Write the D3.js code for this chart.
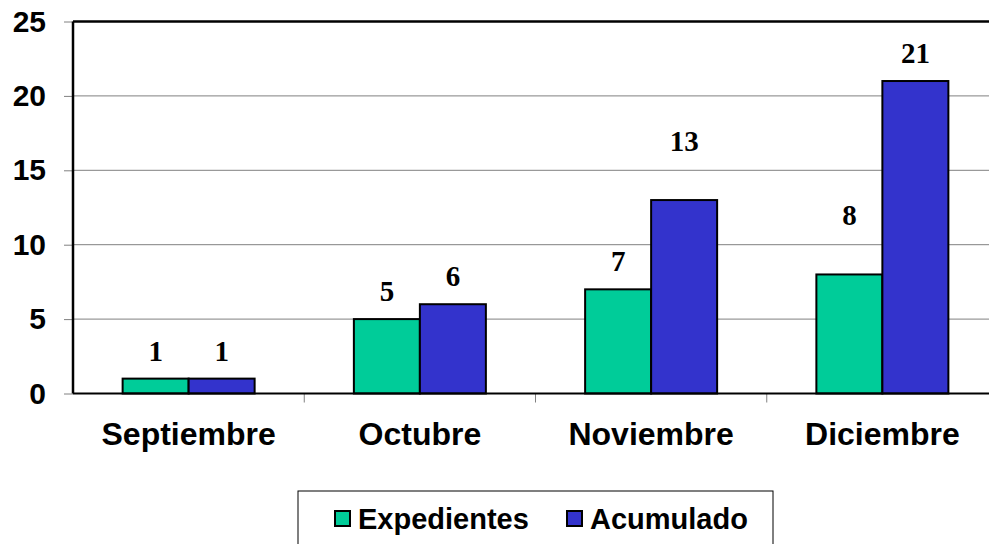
<!DOCTYPE html>
<html>
<head>
<meta charset="utf-8">
<script src="https://cdn.jsdelivr.net/npm/d3@7"></script>
<style>
	html, body { margin: 0; padding: 0; background: #fff; overflow: hidden; }
	svg { display: block; }
</style>
</head>
<body>
<div id="chart"></div>
<script>
// chart data
const months = ["Septiembre", "Octubre", "Noviembre", "Diciembre"];
const expedientes = [1, 5, 7, 8];
const acumulado = [1, 6, 13, 21];
const seriesNames = ["Expedientes", "Acumulado"];
const yTicks = [0, 5, 10, 15, 20, 25];

const width = 989, height = 544;
// plot area runs past the right edge of the window, like the source
const margin = { top: 21.5, left: 73 };
const plotW = 925, plotH = 372;
const colors = ["#00CC99", "#3333CC"];

const svg = d3
	.select("#chart")
	.append("svg")
	.attr("width", width)
	.attr("height", height);

const g = svg.append("g").attr("transform", `translate(${margin.left}, ${margin.top})`);

const x = d3.scaleBand().domain(months).range([0, plotW]).paddingInner(0).paddingOuter(0);
const y = d3.scaleLinear().domain([0, 25]).range([plotH, 0]);
const barW = 66;

// grid lines
g.append("g")
	.selectAll("line")
	.data(yTicks.filter((t) => t > 0 && t < 25))
	.join("line")
	.attr("x1", 0)
	.attr("x2", plotW)
	.attr("y1", (d) => y(d))
	.attr("y2", (d) => y(d))
	.attr("stroke", "#808080")
	.attr("stroke-width", 1);

// y axis
const yAxis = g.append("g").call(d3.axisLeft(y).tickValues(yTicks).tickSize(9).tickPadding(18));
yAxis.select(".domain").remove();
yAxis.selectAll(".tick line").attr("stroke", "#808080");
yAxis.selectAll("text")
	.attr("fill", "#000")
	.style("font", "bold 30px 'Liberation Sans', Arial, sans-serif");

// x axis
const xAxis = g.append("g").attr("transform", `translate(0, ${plotH})`)
	.call(d3.axisBottom(x).tickSize(0).tickPadding(29));
xAxis.select(".domain").remove();
xAxis.selectAll("text")
	.attr("fill", "#000")
	.attr("dy", "0.71em")
	.style("font", "bold 32px 'Liberation Sans', Arial, sans-serif");

// x ticks at band boundaries
g.append("g")
	.selectAll("line")
	.data(months.slice(1))
	.join("line")
	.attr("x1", (d) => x(d))
	.attr("x2", (d) => x(d))
	.attr("y1", plotH)
	.attr("y2", plotH + 9)
	.attr("stroke", "#808080");

// bars
const rows = months.map((m, i) => ({ month: m, values: [expedientes[i], acumulado[i]] }));
const group = g.append("g")
	.selectAll("g")
	.data(rows)
	.join("g")
	.attr("transform", (d) => `translate(${x(d.month) + x.bandwidth() / 2 - barW}, 0)`);

group.selectAll("rect")
	.data((d) => d.values)
	.join("rect")
	.attr("x", (d, i) => i * barW)
	.attr("y", (d) => y(d))
	.attr("width", barW)
	.attr("height", (d) => plotH - y(d))
	.attr("fill", (d, i) => colors[i])
	.attr("stroke", "#000")
	.attr("stroke-width", 2);

// value labels (some sit higher, as in the source)
const liftFor = (month, s) => ((month === "Noviembre" && s === 1) || (month === "Diciembre" && s === 0) ? 49 : 18);
group.selectAll("text")
	.data((d) => d.values.map((v, s) => ({ v, s, month: d.month })))
	.join("text")
	.attr("x", (d) => d.s * barW + barW / 2)
	.attr("y", (d) => y(d.v) - liftFor(d.month, d.s))
	.attr("text-anchor", "middle")
	.style("font", "bold 29px 'Liberation Serif', 'Times New Roman', serif")
	.text((d) => d.v);

// axis lines and top border
g.append("line").attr("x1", 0).attr("x2", plotW).attr("y1", 0).attr("y2", 0)
	.attr("stroke", "#000").attr("stroke-width", 2.5);
g.append("line").attr("x1", 0).attr("x2", 0).attr("y1", 0).attr("y2", plotH)
	.attr("stroke", "#000").attr("stroke-width", 2.5);
g.append("line").attr("x1", 0).attr("x2", plotW).attr("y1", plotH).attr("y2", plotH)
	.attr("stroke", "#000").attr("stroke-width", 2);

// legend
const legend = svg.append("g").attr("transform", "translate(298, 491)");
legend.append("rect")
	.attr("width", 475)
	.attr("height", 80)
	.attr("fill", "#fff")
	.attr("stroke", "#000")
	.attr("stroke-width", 1);

const legendX = [37, 269];
const item = legend.selectAll("g.item")
	.data(seriesNames)
	.join("g")
	.attr("class", "item")
	.attr("transform", (d, i) => `translate(${legendX[i]}, 20)`);
item.append("rect")
	.attr("width", 15)
	.attr("height", 15)
	.attr("fill", (d, i) => colors[i])
	.attr("stroke", "#000")
	.attr("stroke-width", 2);
item.append("text")
	.attr("x", 23)
	.attr("y", 18)
	.style("font", "bold 29px 'Liberation Sans', Arial, sans-serif")
	.text((d) => d);
</script>
</body>
</html>
